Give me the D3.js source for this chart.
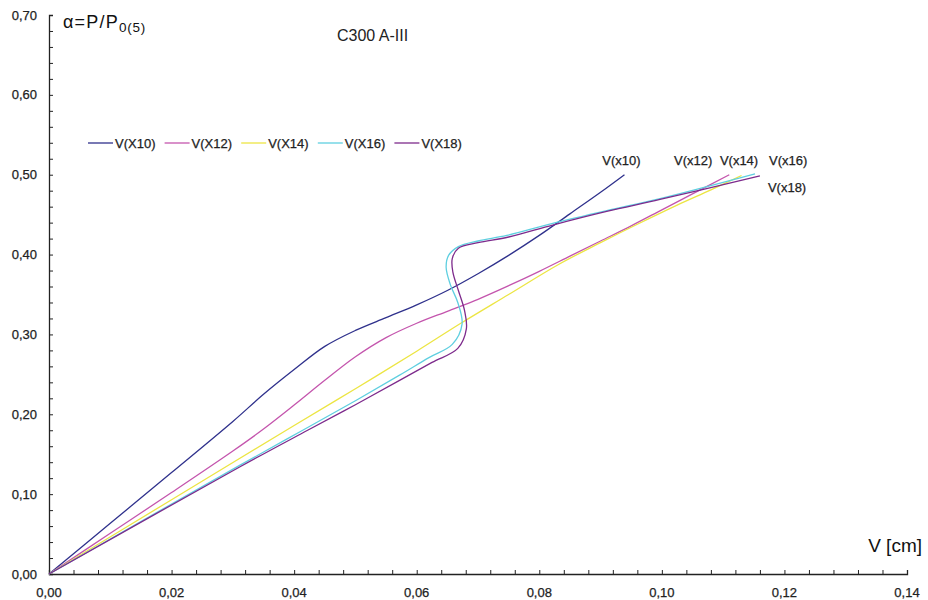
<!DOCTYPE html>
<html>
<head>
<meta charset="utf-8">
<script src="https://cdn.jsdelivr.net/npm/d3@7"></script>
<style>
  body { margin: 0; background: #fff; }
  svg { display: block; }
  text { font-family: "Liberation Sans", Arial, sans-serif; }
  .lbl { stroke: #222; stroke-width: 0.25px; }
</style>
</head>
<body>
<svg id="chart" width="928" height="600"></svg>
<script>
// Load–displacement curves, C300 A-III
const seriesNames = ["V(X10)", "V(X12)", "V(X14)", "V(X16)", "V(X18)"];
const endLabels   = ["V(x10)", "V(x12)", "V(x14)", "V(x16)", "V(x18)"];
const seriesColors = ["#2f318c", "#c455ad", "#ece543", "#5fcfe0", "#7d2a8c"];

// displacement V [cm] and load ratio alpha for each series
const x10V = [0, 0.010, 0.020, 0.030, 0.035, 0.040, 0.045, 0.050, 0.055, 0.060, 0.065, 0.070, 0.075, 0.080, 0.085, 0.090, 0.0939];
const x10A = [0, 0.0635, 0.127, 0.191, 0.225, 0.256, 0.285, 0.305, 0.321, 0.337, 0.355, 0.376, 0.399, 0.424, 0.451, 0.478, 0.500];

const x12V = [0, 0.010, 0.020, 0.030, 0.035, 0.040, 0.045, 0.050, 0.055, 0.060, 0.065, 0.070, 0.075, 0.080, 0.085, 0.090, 0.095, 0.100, 0.105, 0.111];
const x12A = [0, 0.051, 0.102, 0.154, 0.1815, 0.2115, 0.2425, 0.272, 0.296, 0.314, 0.329, 0.344, 0.361, 0.379, 0.398, 0.417, 0.436, 0.456, 0.476, 0.500];

const x14V = [0, 0.020, 0.040, 0.050, 0.060, 0.067, 0.075, 0.083, 0.090, 0.096, 0.1025, 0.108, 0.113];
const x14A = [0, 0.093, 0.186, 0.232, 0.279, 0.313, 0.350, 0.387, 0.415, 0.438, 0.462, 0.481, 0.499];

const x16V = [0, 0.0311, 0.0414, 0.0500, 0.0572, 0.0620, 0.0658, 0.0674, 0.0667, 0.0655, 0.0648, 0.0652, 0.0668, 0.0700, 0.0747, 0.0822, 0.0910, 0.0997, 0.1152];
const x16A = [0, 0.136, 0.180, 0.217, 0.249, 0.271, 0.2875, 0.313, 0.340, 0.362, 0.384, 0.399, 0.410, 0.417, 0.424, 0.439, 0.455, 0.470, 0.501];

const x18V = [0, 0.0311, 0.0422, 0.0500, 0.0572, 0.0625, 0.0667, 0.0681, 0.0678, 0.0668, 0.0659, 0.0658, 0.0668, 0.0700, 0.0750, 0.0822, 0.0910, 0.0997, 0.1160];
const x18A = [0, 0.134, 0.180, 0.212, 0.2425, 0.265, 0.2825, 0.307, 0.330, 0.355, 0.378, 0.395, 0.408, 0.415, 0.422, 0.437, 0.454, 0.469, 0.4985];

const seriesV = [x10V, x12V, x14V, x16V, x18V];
const seriesA = [x10A, x12A, x14A, x16A, x18A];

// axis ticks
const xTickValues = [0, 0.02, 0.04, 0.06, 0.08, 0.10, 0.12, 0.14];
const yTickValues = [0, 0.10, 0.20, 0.30, 0.40, 0.50, 0.60, 0.70];
const xMinorStep = 0.004;
const yMinorStep = 0.02;

const svg = d3.select("#chart");
const x = d3.scaleLinear().domain([0, 0.14]).range([49, 907]);
const y = d3.scaleLinear().domain([0, 0.70]).range([574, 15]);
const fmt = v => d3.format(".2f")(v).replace(".", ",");

// minor + major ticks
const xMinor = d3.range(0, 0.14 + 1e-9, xMinorStep);
const yMinor = d3.range(0, 0.70 + 1e-9, yMinorStep);

const xAxis = d3.axisBottom(x).tickValues(xMinor).tickSize(-4).tickFormat("");
const yAxis = d3.axisLeft(y).tickValues(yMinor).tickSize(-4).tickFormat("");

const gx = svg.append("g").attr("transform", "translate(0,574)").call(xAxis);
const gy = svg.append("g").attr("transform", "translate(49,0)").call(yAxis);
[gx, gy].forEach(g => {
  g.select(".domain").attr("stroke", "#222").attr("stroke-width", 1.3);
  g.selectAll(".tick line").attr("stroke", "#222").attr("stroke-width", 1);
});

// tick labels
svg.append("g").selectAll("text").data(xTickValues).join("text")
  .attr("class", "lbl")
  .attr("x", d => x(d)).attr("y", 597)
  .attr("text-anchor", "middle")
  .attr("font-size", 13).attr("fill", "#222")
  .text(fmt);

svg.append("g").selectAll("text").data(yTickValues).join("text")
  .attr("class", "lbl")
  .attr("x", 37).attr("y", d => y(d) + 4.6)
  .attr("text-anchor", "end")
  .attr("font-size", 13).attr("fill", "#222")
  .text(fmt);

// axis titles and chart title
const yt = svg.append("text").attr("x", 63).attr("y", 28)
  .attr("font-size", 18).attr("letter-spacing", 1.2).attr("fill", "#111");
yt.append("tspan").text("α=P/P");
yt.append("tspan").attr("font-size", 13.5).attr("letter-spacing", 0.8).attr("dy", 4).text("0(5)");

svg.append("text").attr("x", 922).attr("y", 552)
  .attr("text-anchor", "end").attr("font-size", 19).attr("fill", "#111")
  .text("V [cm]");

svg.append("text").attr("x", 337).attr("y", 41)
  .attr("font-size", 16).attr("fill", "#222")
  .text("C300 A-III");

// curves
const line = d3.line()
  .x(d => x(d[0])).y(d => y(d[1]))
  .curve(d3.curveCatmullRom.alpha(0.5));

const seriesData = seriesV.map((vs, i) => vs.map((v, j) => [v, seriesA[i][j]]));

svg.append("g").selectAll("path").data(seriesData).join("path")
  .attr("d", line)
  .attr("fill", "none")
  .attr("stroke", (d, i) => seriesColors[i])
  .attr("stroke-width", 1.3);

// labels at the end of each curve
const endOffsets = [
  { dx: -3,  dy: -10, anchor: "middle" },
  { dx: -36, dy: -10, anchor: "middle" },
  { dx: -2.5, dy: -11, anchor: "middle" },
  { dx: 14,  dy: -9,  anchor: "start" },
  { dx: 8,   dy: 16,  anchor: "start" }
];
svg.append("g").selectAll("text").data(seriesData).join("text")
  .attr("class", "lbl")
  .attr("x", (d, i) => x(d[d.length - 1][0]) + endOffsets[i].dx)
  .attr("y", (d, i) => y(d[d.length - 1][1]) + endOffsets[i].dy)
  .attr("text-anchor", (d, i) => endOffsets[i].anchor)
  .attr("font-size", 13).attr("fill", "#222")
  .text((d, i) => endLabels[i]);

// legend
const legend = svg.append("g").selectAll("g").data(seriesNames).join("g")
  .attr("transform", (d, i) => `translate(${88 + i * 76.6},143)`);
legend.append("line")
  .attr("x1", 0).attr("x2", 25).attr("y1", 0).attr("y2", 0)
  .attr("stroke", (d, i) => seriesColors[i]).attr("stroke-width", 1.3);
legend.append("text")
  .attr("class", "lbl")
  .attr("x", 27).attr("y", 4.5)
  .attr("font-size", 13).attr("fill", "#222")
  .text(d => d);
</script>
</body>
</html>
